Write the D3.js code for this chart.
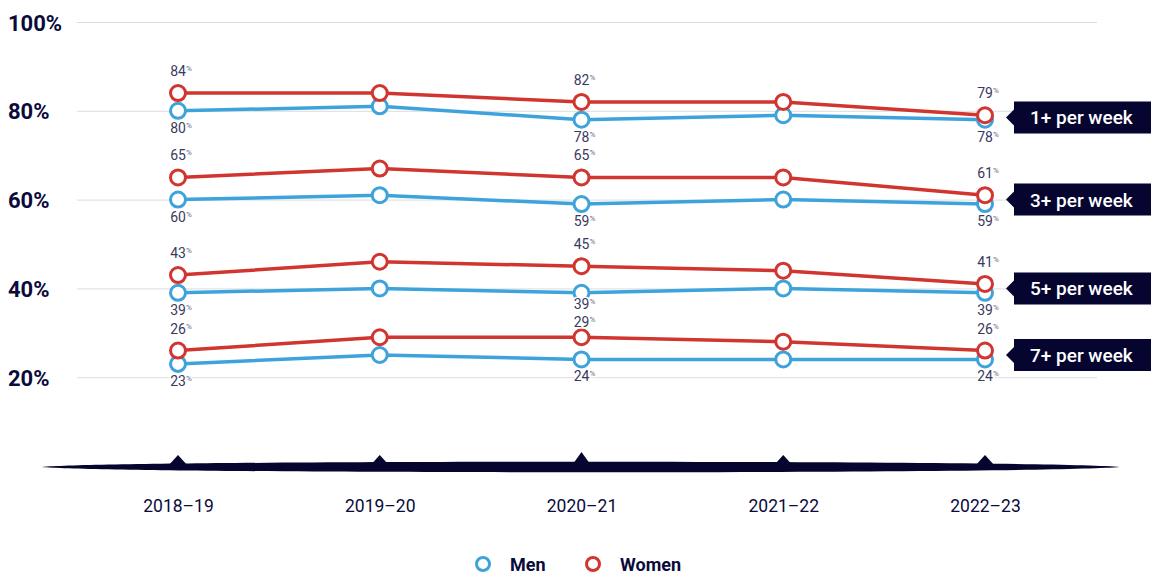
<!DOCTYPE html>
<meta charset="utf-8">
<style>
	body {
		margin: 0;
		padding: 0;
		background: #ffffff;
		font-family: Roboto, 'DejaVu Sans', sans-serif;
	}
	.grid line {
		stroke: #dcdcdc;
		stroke-width: 1px;
	}
	.grid path { display: none; }
	.grid text {
		fill: #0b0b3b;
		font-size: 22px;
		font-weight: 700;
		font-family: Roboto, sans-serif;
	}
	.xaxis path, .xaxis line { display: none; }
	.xaxis text {
		fill: #0b0b3b;
		font-size: 17.5px;
		font-family: Roboto, sans-serif;
	}
	.line {
		fill: none;
		stroke-width: 3.5px;
	}
	.dot {
		fill: #ffffff;
		stroke-width: 3px;
	}
	.val {
		fill: #3a3a60;
		font-size: 14px;
		text-anchor: middle;
		stroke: #ffffff;
		stroke-width: 3px;
		paint-order: stroke;
	}
	.tag text {
		fill: #ffffff;
		font-size: 19px;
		font-weight: 500;
	}
	.legend text {
		fill: #0b0b3b;
		font-size: 18px;
		font-weight: 700;
	}
</style>
<body>
<svg class="chart"></svg>
</body>
<script src="https://d3js.org/d3.v7.min.js"></script>
<script>

var years = ["2018–19", "2019–20", "2020–21", "2021–22", "2022–23"];
var groups = ["1+ per week", "3+ per week", "5+ per week", "7+ per week"];

var men1 = [80, 81, 78, 79, 78];
var women1 = [84, 84, 82, 82, 79];
var men3 = [60, 61, 59, 60, 59];
var women3 = [65, 67, 65, 65, 61];
var men5 = [39, 40, 39, 40, 39];
var women5 = [43, 46, 45, 44, 41];
var men7 = [23, 25, 24, 24, 24];
var women7 = [26, 29, 29, 28, 26];

var yTicks = [20, 40, 60, 80, 100];
var labelled = [0, 2, 4];

var men = [men1, men3, men5, men7];
var women = [women1, women3, women5, women7];

var width = 1151, height = 575;
var blue = "#3ea3db", red = "#d1352f", navy = "#05052f";

var svg = d3.select(".chart")
    .attr("width", width)
    .attr("height", height);

var x = d3.scalePoint()
    .domain(years)
    .range([178, 985]);

var y = d3.scaleLinear()
    .domain([0, 100])
    .range([466, 22]);

// grid + y labels
var yAxis = d3.axisLeft(y)
    .tickValues(yTicks)
    .tickSize(-1020)
    .tickFormat(function (d) { return d + "%"; });

var grid = svg.append("g")
    .attr("class", "grid")
    .attr("transform", "translate(77,0)")
    .call(yAxis);

grid.selectAll("text")
    .attr("x", -69)
    .attr("dy", null)
    .attr("y", 8)
    .style("text-anchor", "start");

// bottom band
var by = y(0) + 1;
svg.append("path")
    .attr("d", "M42," + by + " C120," + (by - 7) + " 1040," + (by - 7) + " 1120," + by +
               " C1040," + (by + 7) + " 120," + (by + 7) + " 42," + by + "Z")
    .attr("fill", navy);

svg.selectAll(".tri")
    .data(years)
  .enter().append("path")
    .attr("class", "tri")
    .attr("fill", navy)
    .attr("d", function (d, i) {
        var cx = x(d), top = (i === 2) ? by - 15 : by - 12;
        return "M" + (cx - 10) + "," + (by - 1) + " L" + cx + "," + top + " L" + (cx + 10) + "," + (by - 1) + "Z";
    });

var xAxis = d3.axisBottom(x).tickSize(0).tickPadding(0);
svg.append("g")
    .attr("class", "xaxis")
    .attr("transform", "translate(0,500)")
    .call(xAxis);

var line = d3.line()
    .x(function (d, i) { return x(years[i]); })
    .y(function (d) { return y(d); });

// label baselines, pushed apart where a men label and the next women label collide
var labelPos = [];
labelled.forEach(function (i) {
    var list = [];
    for (var k = 0; k < groups.length; k++) {
        list.push({k: k, i: i, v: women[k][i], above: true, y: y(women[k][i]) - 17});
        list.push({k: k, i: i, v: men[k][i], above: false, y: y(men[k][i]) + 22});
    }
    list.sort(function (a, b) { return a.y - b.y; });
    for (var j = 1; j < list.length; j++) {
        var gap = list[j].y - list[j - 1].y;
        if (gap < 18) {
            var mid = (list[j].y + list[j - 1].y) / 2;
            list[j - 1].y = mid - 9;
            list[j].y = mid + 9;
        }
    }
    labelPos = labelPos.concat(list);
});

function drawSeries(values, color) {
    var g = svg.append("g");
    g.append("path")
        .datum(values)
        .attr("class", "line")
        .attr("stroke", color)
        .attr("d", line);
    g.selectAll(".dot")
        .data(values)
      .enter().append("circle")
        .attr("class", "dot")
        .attr("stroke", color)
        .attr("r", 7.5)
        .attr("cx", function (d, i) { return x(years[i]); })
        .attr("cy", function (d) { return y(d); });
}

for (var k = 0; k < groups.length; k++) {
    drawSeries(men[k], blue);
    drawSeries(women[k], red);
}

var t = svg.append("g").selectAll(".val")
    .data(labelPos)
  .enter().append("text")
    .attr("class", "val")
    .attr("x", function (d) { return x(years[d.i]) + 3; })
    .attr("y", function (d) { return d.y; });
t.append("tspan").text(function (d) { return d.v; });
t.append("tspan")
    .attr("font-size", "8px")
    .attr("fill", "#6a6a88")
    .attr("dy", -5)
    .text("%");

// right tags
var last = years.length - 1;
var tag = svg.selectAll(".tag")
    .data(groups)
  .enter().append("g")
    .attr("class", "tag")
    .attr("transform", function (d, k) {
        return "translate(0," + y((men[k][last] + women[k][last]) / 2) + ")";
    });

tag.append("path")
    .attr("fill", navy)
    .attr("d", "M1006,0 L1014,-8 L1014,-16 L1151,-16 L1151,16 L1014,16 L1014,8 Z");

tag.append("text")
    .attr("x", 1030)
    .attr("y", 7)
    .text(function (d) { return d; });

// legend
var legendItems = [["Men", blue, 483], ["Women", red, 593]];
var legend = svg.selectAll(".legend")
    .data(legendItems)
  .enter().append("g")
    .attr("class", "legend");

legend.append("circle")
    .attr("cx", function (d) { return d[2]; })
    .attr("cy", 564)
    .attr("r", 6.5)
    .attr("fill", "#ffffff")
    .attr("stroke", function (d) { return d[1]; })
    .attr("stroke-width", 3);

legend.append("text")
    .attr("x", function (d) { return d[2] + 27; })
    .attr("y", 571)
    .text(function (d) { return d[0]; });

</script>
